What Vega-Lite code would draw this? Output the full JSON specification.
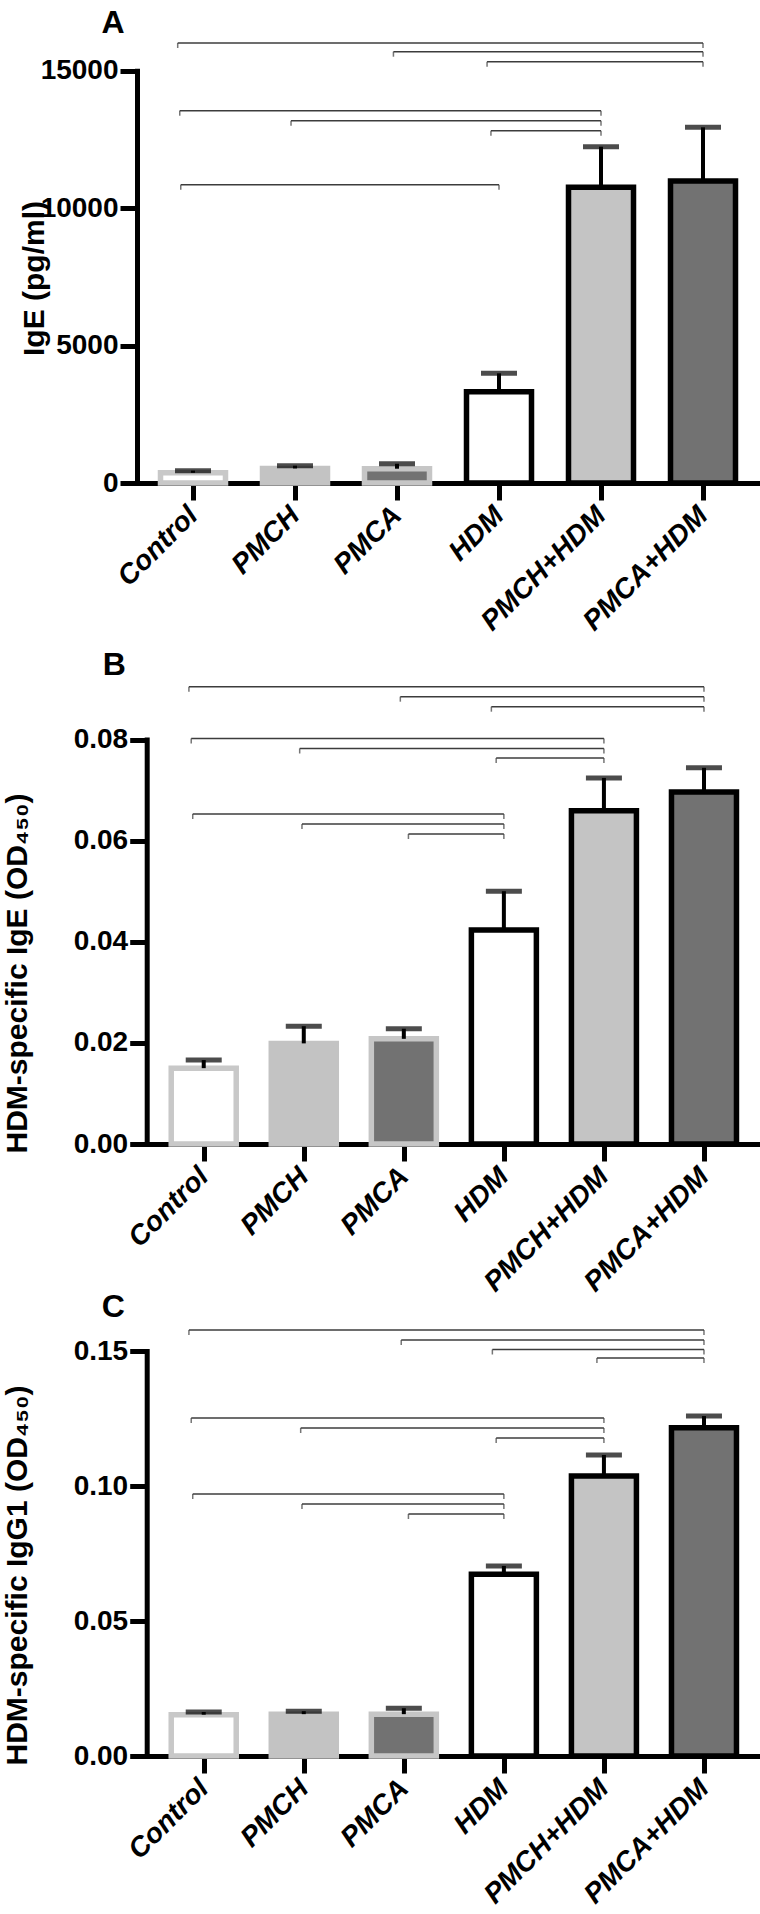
{
  "$schema": "https://vega.github.io/schema/vega-lite/v6.json",
  "autosize": "none",
  "padding": 0,
  "width": 760,
  "height": 1914,
  "background": "white",
  "config": {
    "view": {"stroke": null},
    "axis": {
      "grid": false,
      "domainColor": "black",
      "domainWidth": 5,
      "domainCap": "square",
      "tickColor": "black",
      "tickWidth": 5,
      "tickSize": 17,
      "labelFont": "Liberation Sans",
      "labelFontSize": 28,
      "labelFontWeight": "bold",
      "labelColor": "black",
      "labelPadding": 2,
      "titleFont": "Liberation Sans",
      "titleFontSize": 30,
      "titleFontWeight": "bold",
      "titleColor": "black",
      "labelOverlap": false,
      "labelFlush": false,
      "labelBound": false,
      "zindex": 1
    },
    "axisX": {
      "labelAngle": -45,
      "labelAlign": "right",
      "labelBaseline": "middle",
      "labelPadding": 11,
      "labelFontSize": 28,
      "labelFontStyle": "italic"
    }
  },
  "datasets": {
    "barsA": [
      {"i": 0, "group": "Control", "mean": 370, "upper": 450},
      {"i": 1, "group": "PMCH", "mean": 530, "upper": 630},
      {"i": 2, "group": "PMCA", "mean": 520, "upper": 700},
      {"i": 3, "group": "HDM", "mean": 3320, "upper": 3990},
      {"i": 4, "group": "PMCH+HDM", "mean": 10760, "upper": 12235},
      {"i": 5, "group": "PMCA+HDM", "mean": 10990, "upper": 12940}
    ],
    "barsB": [
      {"i": 0, "group": "Control", "mean": 0.0150, "upper": 0.0166},
      {"i": 1, "group": "PMCH", "mean": 0.0199, "upper": 0.0233},
      {"i": 2, "group": "PMCA", "mean": 0.0208, "upper": 0.0228},
      {"i": 3, "group": "HDM", "mean": 0.0423, "upper": 0.0500},
      {"i": 4, "group": "PMCH+HDM", "mean": 0.0659, "upper": 0.0724},
      {"i": 5, "group": "PMCA+HDM", "mean": 0.0696, "upper": 0.0744}
    ],
    "barsC": [
      {"i": 0, "group": "Control", "mean": 0.0153, "upper": 0.0163},
      {"i": 1, "group": "PMCH", "mean": 0.0155, "upper": 0.0166},
      {"i": 2, "group": "PMCA", "mean": 0.0155, "upper": 0.0177},
      {"i": 3, "group": "HDM", "mean": 0.0673, "upper": 0.0704},
      {"i": 4, "group": "PMCH+HDM", "mean": 0.1037, "upper": 0.1115},
      {"i": 5, "group": "PMCA+HDM", "mean": 0.1216, "upper": 0.1259}
    ],
    "bracketsA": [
      {"from": -0.15, "to": 5, "y": 16007},
      {"from": 1.965, "to": 5, "y": 15691},
      {"from": 2.883, "to": 5, "y": 15327},
      {"from": -0.13, "to": 4, "y": 13544},
      {"from": 0.961, "to": 4, "y": 13180},
      {"from": 2.921, "to": 4, "y": 12817},
      {"from": -0.12, "to": 3, "y": 10852}
    ],
    "bracketsB": [
      {"from": -0.148, "to": 5, "y": 0.09045},
      {"from": 1.965, "to": 5, "y": 0.08847},
      {"from": 2.875, "to": 5, "y": 0.08649},
      {"from": -0.125, "to": 4, "y": 0.0802},
      {"from": 0.959, "to": 4, "y": 0.07822},
      {"from": 2.923, "to": 4, "y": 0.07634},
      {"from": -0.11, "to": 3, "y": 0.06527},
      {"from": 0.982, "to": 3, "y": 0.06329},
      {"from": 2.046, "to": 3, "y": 0.06131}
    ],
    "bracketsC": [
      {"from": -0.148, "to": 5, "y": 0.15778},
      {"from": 1.974, "to": 5, "y": 0.15407},
      {"from": 2.885, "to": 5, "y": 0.15056},
      {"from": 3.93, "to": 5, "y": 0.14741},
      {"from": -0.125, "to": 4, "y": 0.12519},
      {"from": 0.969, "to": 4, "y": 0.12148},
      {"from": 2.923, "to": 4, "y": 0.11778},
      {"from": -0.11, "to": 3, "y": 0.09704},
      {"from": 0.982, "to": 3, "y": 0.09333},
      {"from": 2.046, "to": 3, "y": 0.08963}
    ]
  },
  "layer": [
    {
      "layer": [
        {
          "data": {"name": "barsA"},
          "mark": {"type": "bar", "orient": "vertical", "width": 65, "strokeWidth": 5.5},
          "encoding": {
            "x": {"field": "i", "type": "quantitative", "title": null,
              "scale": {"domain": [-0.5, 5.5], "range": [137, 759], "nice": false, "zero": false},
              "axis": {"orient": "bottom", "offset": -1431, "values": [0, 1, 2, 3, 4, 5],
                "labelExpr": "['Control','PMCH','PMCA','HDM','PMCH+HDM','PMCA+HDM'][datum.value]"}},
            "y": {"field": "mean", "type": "quantitative", "title": "IgE (pg/ml)",
              "scale": {"domain": [0, 15000], "range": [483, 70.7], "nice": false, "zero": true},
              "axis": {"orient": "left", "offset": -137, "values": [0, 5000, 10000, 15000], "format": "d",
                "titleX": -88, "titleY": 278, "titleBaseline": "bottom", "titleAngle": -90}},
            "fill": {"field": "group", "type": "nominal", "legend": null,
              "scale": {"domain": ["Control", "PMCH", "PMCA", "HDM", "PMCH+HDM", "PMCA+HDM"],
                "range": ["#ffffff", "#c3c3c3", "#727272", "#ffffff", "#c4c4c4", "#727272"]}},
            "stroke": {"field": "group", "type": "nominal", "legend": null,
              "scale": {"domain": ["Control", "PMCH", "PMCA", "HDM", "PMCH+HDM", "PMCA+HDM"],
                "range": ["#c8c8c8", "#c3c3c3", "#c6c6c6", "#000000", "#000000", "#000000"]}}
          }
        },
        {
          "data": {"name": "barsA"},
          "mark": {"type": "rule", "color": "black", "strokeWidth": 4},
          "encoding": {
            "x": {"field": "i", "type": "quantitative", "title": null},
            "y": {"field": "mean", "type": "quantitative", "title": "IgE (pg/ml)"},
            "y2": {"field": "upper"}
          }
        },
        {
          "data": {"name": "barsA"},
          "mark": {"type": "tick", "orient": "horizontal", "color": "black", "size": 36, "thickness": 5},
          "encoding": {
            "x": {"field": "i", "type": "quantitative", "title": null},
            "y": {"field": "upper", "type": "quantitative", "title": "IgE (pg/ml)"}
          }
        },
        {
          "data": {"name": "bracketsA"},
          "mark": {"type": "rule", "color": "#3c3c3c", "strokeWidth": 1.5},
          "encoding": {
            "x": {"field": "from", "type": "quantitative", "title": null},
            "x2": {"field": "to"},
            "y": {"field": "y", "type": "quantitative", "title": "IgE (pg/ml)"}
          }
        },
        {
          "data": {"name": "bracketsA"},
          "mark": {"type": "tick", "orient": "vertical", "color": "#3c3c3c", "size": 5, "thickness": 1.5, "yOffset": 2.5},
          "encoding": {
            "x": {"field": "from", "type": "quantitative", "title": null},
            "y": {"field": "y", "type": "quantitative", "title": "IgE (pg/ml)"}
          }
        },
        {
          "data": {"name": "bracketsA"},
          "mark": {"type": "tick", "orient": "vertical", "color": "#3c3c3c", "size": 5, "thickness": 1.5, "yOffset": 2.5},
          "encoding": {
            "x": {"field": "to", "type": "quantitative", "title": null},
            "y": {"field": "y", "type": "quantitative", "title": "IgE (pg/ml)"}
          }
        },
        {
          "data": {"values": [{"label": "A"}]},
          "mark": {"type": "text", "font": "Liberation Sans", "fontSize": 32, "fontWeight": "bold", "align": "center", "baseline": "alphabetic", "color": "black"},
          "encoding": {
            "x": {"datum": -0.785, "type": "quantitative", "title": null},
            "y": {"datum": 16371, "type": "quantitative", "title": "IgE (pg/ml)"},
            "text": {"field": "label"}
          }
        }
      ]
    },
    {
      "layer": [
        {
          "data": {"name": "barsB"},
          "mark": {"type": "bar", "orient": "vertical", "width": 65, "strokeWidth": 5.5},
          "encoding": {
            "x": {"field": "i", "type": "quantitative", "title": null,
              "scale": {"domain": [-0.52, 5.5], "range": [146.7, 759], "nice": false, "zero": false},
              "axis": {"orient": "bottom", "offset": -770, "values": [0, 1, 2, 3, 4, 5],
                "labelExpr": "['Control','PMCH','PMCA','HDM','PMCH+HDM','PMCA+HDM'][datum.value]"}},
            "y": {"field": "mean", "type": "quantitative", "title": "HDM-specific IgE (OD₄₅₀)",
              "scale": {"domain": [0, 0.08], "range": [1144, 739.5], "nice": false, "zero": true},
              "axis": {"orient": "left", "offset": -146.7, "values": [0, 0.02, 0.04, 0.06, 0.08], "format": ".2f",
                "titleX": -114, "titleY": 973, "titleBaseline": "bottom", "titleAngle": -90}},
            "fill": {"field": "group", "type": "nominal", "legend": null},
            "stroke": {"field": "group", "type": "nominal", "legend": null}
          }
        },
        {
          "data": {"name": "barsB"},
          "mark": {"type": "rule", "color": "black", "strokeWidth": 4},
          "encoding": {
            "x": {"field": "i", "type": "quantitative", "title": null},
            "y": {"field": "mean", "type": "quantitative", "title": "HDM-specific IgE (OD₄₅₀)"},
            "y2": {"field": "upper"}
          }
        },
        {
          "data": {"name": "barsB"},
          "mark": {"type": "tick", "orient": "horizontal", "color": "black", "size": 36, "thickness": 5},
          "encoding": {
            "x": {"field": "i", "type": "quantitative", "title": null},
            "y": {"field": "upper", "type": "quantitative", "title": "HDM-specific IgE (OD₄₅₀)"}
          }
        },
        {
          "data": {"name": "bracketsB"},
          "mark": {"type": "rule", "color": "#3c3c3c", "strokeWidth": 1.5},
          "encoding": {
            "x": {"field": "from", "type": "quantitative", "title": null},
            "x2": {"field": "to"},
            "y": {"field": "y", "type": "quantitative", "title": "HDM-specific IgE (OD₄₅₀)"}
          }
        },
        {
          "data": {"name": "bracketsB"},
          "mark": {"type": "tick", "orient": "vertical", "color": "#3c3c3c", "size": 5, "thickness": 1.5, "yOffset": 2.5},
          "encoding": {
            "x": {"field": "from", "type": "quantitative", "title": null},
            "y": {"field": "y", "type": "quantitative", "title": "HDM-specific IgE (OD₄₅₀)"}
          }
        },
        {
          "data": {"name": "bracketsB"},
          "mark": {"type": "tick", "orient": "vertical", "color": "#3c3c3c", "size": 5, "thickness": 1.5, "yOffset": 2.5},
          "encoding": {
            "x": {"field": "to", "type": "quantitative", "title": null},
            "y": {"field": "y", "type": "quantitative", "title": "HDM-specific IgE (OD₄₅₀)"}
          }
        },
        {
          "data": {"values": [{"label": "B"}]},
          "mark": {"type": "text", "font": "Liberation Sans", "fontSize": 32, "fontWeight": "bold", "align": "center", "baseline": "alphabetic", "color": "black"},
          "encoding": {
            "x": {"datum": -0.894, "type": "quantitative", "title": null},
            "y": {"datum": 0.09276, "type": "quantitative", "title": "HDM-specific IgE (OD₄₅₀)"},
            "text": {"field": "label"}
          }
        }
      ]
    },
    {
      "layer": [
        {
          "data": {"name": "barsC"},
          "mark": {"type": "bar", "orient": "vertical", "width": 65, "strokeWidth": 5.5},
          "encoding": {
            "x": {"field": "i", "type": "quantitative", "title": null,
              "scale": {"domain": [-0.52, 5.5], "range": [146.7, 759], "nice": false, "zero": false},
              "axis": {"orient": "bottom", "offset": -158, "values": [0, 1, 2, 3, 4, 5],
                "labelExpr": "['Control','PMCH','PMCA','HDM','PMCH+HDM','PMCA+HDM'][datum.value]"}},
            "y": {"field": "mean", "type": "quantitative", "title": "HDM-specific IgG1 (OD₄₅₀)",
              "scale": {"domain": [0, 0.15], "range": [1756, 1351], "nice": false, "zero": true},
              "axis": {"orient": "left", "offset": -146.7, "values": [0, 0.05, 0.1, 0.15], "format": ".2f",
                "titleX": -114, "titleY": 1575, "titleBaseline": "bottom", "titleAngle": -90}},
            "fill": {"field": "group", "type": "nominal", "legend": null},
            "stroke": {"field": "group", "type": "nominal", "legend": null}
          }
        },
        {
          "data": {"name": "barsC"},
          "mark": {"type": "rule", "color": "black", "strokeWidth": 4},
          "encoding": {
            "x": {"field": "i", "type": "quantitative", "title": null},
            "y": {"field": "mean", "type": "quantitative", "title": "HDM-specific IgG1 (OD₄₅₀)"},
            "y2": {"field": "upper"}
          }
        },
        {
          "data": {"name": "barsC"},
          "mark": {"type": "tick", "orient": "horizontal", "color": "black", "size": 36, "thickness": 5},
          "encoding": {
            "x": {"field": "i", "type": "quantitative", "title": null},
            "y": {"field": "upper", "type": "quantitative", "title": "HDM-specific IgG1 (OD₄₅₀)"}
          }
        },
        {
          "data": {"name": "bracketsC"},
          "mark": {"type": "rule", "color": "#3c3c3c", "strokeWidth": 1.5},
          "encoding": {
            "x": {"field": "from", "type": "quantitative", "title": null},
            "x2": {"field": "to"},
            "y": {"field": "y", "type": "quantitative", "title": "HDM-specific IgG1 (OD₄₅₀)"}
          }
        },
        {
          "data": {"name": "bracketsC"},
          "mark": {"type": "tick", "orient": "vertical", "color": "#3c3c3c", "size": 5, "thickness": 1.5, "yOffset": 2.5},
          "encoding": {
            "x": {"field": "from", "type": "quantitative", "title": null},
            "y": {"field": "y", "type": "quantitative", "title": "HDM-specific IgG1 (OD₄₅₀)"}
          }
        },
        {
          "data": {"name": "bracketsC"},
          "mark": {"type": "tick", "orient": "vertical", "color": "#3c3c3c", "size": 5, "thickness": 1.5, "yOffset": 2.5},
          "encoding": {
            "x": {"field": "to", "type": "quantitative", "title": null},
            "y": {"field": "y", "type": "quantitative", "title": "HDM-specific IgG1 (OD₄₅₀)"}
          }
        },
        {
          "data": {"values": [{"label": "C"}]},
          "mark": {"type": "text", "font": "Liberation Sans", "fontSize": 32, "fontWeight": "bold", "align": "center", "baseline": "alphabetic", "color": "black"},
          "encoding": {
            "x": {"datum": -0.904, "type": "quantitative", "title": null},
            "y": {"datum": 0.16259, "type": "quantitative", "title": "HDM-specific IgG1 (OD₄₅₀)"},
            "text": {"field": "label"}
          }
        }
      ]
    }
  ],
  "resolve": {
    "scale": {"x": "independent", "y": "independent"},
    "axis": {"x": "independent", "y": "independent"}
  }
}
